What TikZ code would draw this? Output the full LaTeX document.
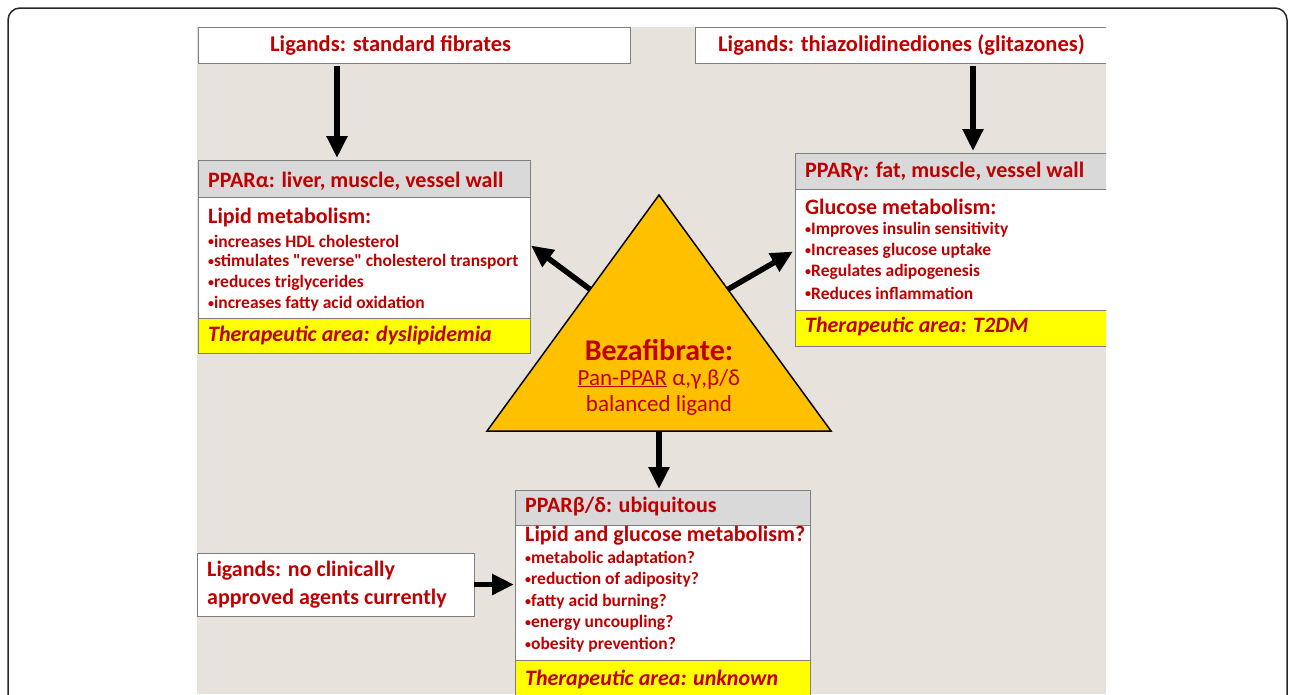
\documentclass[tikz,border=0pt]{standalone}
\usepackage{fontspec}
\setmainfont{Carlito}[Ligatures=TeXOff]
\usetikzlibrary{arrows.meta,calc}
\definecolor{tred}{HTML}{C00000}
\definecolor{bgc}{HTML}{E7E3DC}
\definecolor{hdrgray}{HTML}{D9D9D9}
\definecolor{boxgray}{HTML}{7F7F7F}
\definecolor{yel}{HTML}{FFFF00}
\definecolor{orng}{HTML}{FFC000}
\newcommand{\smbul}{\raisebox{1.6pt}{\fontsize{12}{12}\selectfont •}}
\tikzset{
  box/.style={draw=boxgray, line width=1pt, anchor=north west, inner sep=0pt, outer sep=0pt},
  txt/.style={anchor=west, inner sep=0pt, text=tred},
  ligtxt/.style={txt, font=\fontsize{22.5}{26}\bfseries\selectfont},
  hdrtxt/.style={txt, font=\fontsize{22}{26}\bfseries\selectfont},
  subtxt/.style={txt, font=\fontsize{22}{26}\bfseries\selectfont},
  bultxt/.style={txt, font=\fontsize{17.5}{20}\bfseries\selectfont},
  thertxt/.style={txt, font=\fontsize{22}{26}\bfseries\itshape\selectfont},
  tritxt/.style={anchor=center, inner sep=0pt, text=tred, font=\fontsize{23}{27}\selectfont},
  arr/.style={line width=5.5pt, -{Triangle[width=20pt,length=22pt]}},
}
\begin{document}
\begin{tikzpicture}[x=1pt,y=-1pt]
\useasboundingbox (0,0) rectangle (1290,694);
% outer frame
\draw[line width=1.5pt, black!85, rounded corners=12pt] (8,700) -- (8,8) -- (1287,8) -- (1287,700);
% background
\fill[bgc] (197,27) rectangle (1106,694);

\begin{scope}
\clip (0,0) rectangle (1106,694);
% top boxes
\node[box, fill=white, minimum width=432pt, minimum height=36pt] (lig1) at (198,27) {};
\node[box, fill=white, minimum width=420pt, minimum height=36pt] (lig2) at (695,27) {};
% PPAR alpha
\node[box, fill=hdrgray, minimum width=332pt, minimum height=37pt] (alphaH) at (198,160) {};
\node[box, fill=white, minimum width=332pt, minimum height=121pt] (alphaB) at (198,197) {};
\node[box, fill=yel, minimum width=332pt, minimum height=35pt] (alphaY) at (198,318) {};
% PPAR gamma
\node[box, fill=hdrgray, minimum width=320pt, minimum height=36pt] (gammaH) at (795,153) {};
\node[box, fill=white, minimum width=320pt, minimum height=121pt] (gammaB) at (795,189) {};
\node[box, fill=yel, minimum width=320pt, minimum height=36pt] (gammaY) at (795,310) {};
% PPAR beta/delta
\node[box, fill=hdrgray, minimum width=295pt, minimum height=35pt] (betaH) at (515,490) {};
\node[box, fill=white, minimum width=295pt, minimum height=135pt] (betaB) at (515,525) {};
\node[box, fill=yel, minimum width=295pt, minimum height=45pt] (betaY) at (515,660) {};
% ligands none
\node[box, fill=white, minimum width=277pt, minimum height=63pt] (lig3) at (197,553) {};
\end{scope}

% texts
\node[ligtxt] (t1) at (270,45) {Ligands: standard fibrates};
\node[ligtxt] (t2) at (718,45) {Ligands: thiazolidinediones (glitazones)};

\node[hdrtxt] (ah) at (208,181) {PPARα: liver, muscle, vessel wall};
\node[subtxt] (as) at (208,218) {Lipid metabolism:};
\node[bultxt] (a1) at (208,241) {\smbul increases HDL cholesterol};
\node[bultxt] (a2) at (208,262) {\smbul stimulates "reverse" cholesterol transport};
\node[bultxt] (a3) at (208,283) {\smbul reduces triglycerides};
\node[bultxt] (a4) at (208,304) {\smbul increases fatty acid oxidation};
\node[thertxt] (ay) at (208,335) {Therapeutic area: dyslipidemia};

\node[hdrtxt] (gh) at (805,172) {PPARγ: fat, muscle, vessel wall};
\node[subtxt] (gs) at (805,207) {Glucose metabolism:};
\node[bultxt] (g1) at (805,230) {\smbul Improves insulin sensitivity};
\node[bultxt] (g2) at (805,251) {\smbul Increases glucose uptake};
\node[bultxt] (g3) at (805,272) {\smbul Regulates adipogenesis};
\node[bultxt] (g4) at (805,293) {\smbul Reduces inflammation};
\node[thertxt] (gy) at (805,326) {Therapeutic area: T2DM};

\node[hdrtxt] (bh) at (525,507) {PPARβ/δ: ubiquitous};
\node[subtxt] (bs) at (525,536) {Lipid and glucose metabolism?};
\node[bultxt] (b1) at (525,559) {\smbul metabolic adaptation?};
\node[bultxt] (b2) at (525,580) {\smbul reduction of adiposity?};
\node[bultxt] (b3) at (525,602) {\smbul fatty acid burning?};
\node[bultxt] (b4) at (525,623) {\smbul energy uncoupling?};
\node[bultxt] (b5) at (525,645) {\smbul obesity prevention?};
\node[thertxt] (by) at (525,679) {Therapeutic area: unknown};

\node[hdrtxt] (l3a) at (207,571) {Ligands: no clinically};
\node[hdrtxt] (l3b) at (207,599) {approved agents currently};

% triangle
\coordinate (apex) at (659,195);
\coordinate (bl) at (487,431);
\coordinate (br) at (831,431);
\coordinate (bm) at ($(bl)!0.5!(br)$);
\fill[orng] (apex) -- (bl) -- (br) -- cycle;
\draw[line width=1.5pt, black, line join=miter] (apex) -- (bl) -- (br) -- cycle;
\node[tritxt, font=\fontsize{30}{34}\bfseries\selectfont] (bz) at (659,350) {Bezafibrate:};
\node[tritxt] (pan) at (659,379) {\underline{Pan-PPAR} α,γ,β/δ};
\node[tritxt] (bal) at (659,405) {balanced ligand};

% arrows
\draw[arr] ([xshift=139pt,yshift=-3pt]lig1.south west) -- ([xshift=139pt,yshift=2pt]alphaH.north west);
\draw[arr] ([xshift=278pt,yshift=-3pt]lig2.south west) -- ([xshift=178pt,yshift=2pt]gammaH.north west);
\draw[arr] ($(apex)!0.4!(bl)$) -- ([xshift=1pt,yshift=12pt]alphaB.east);
\draw[arr] ($(apex)!0.4!(br)$) -- ([xshift=-2pt,yshift=-2pt]gammaB.west);
\draw[arr] (bm) -- ([yshift=1pt]bm |- betaH.north);
\draw[arr] (lig3.east) -- ([xshift=-1pt]lig3.east -| betaB.west);
\end{tikzpicture}
\end{document}
